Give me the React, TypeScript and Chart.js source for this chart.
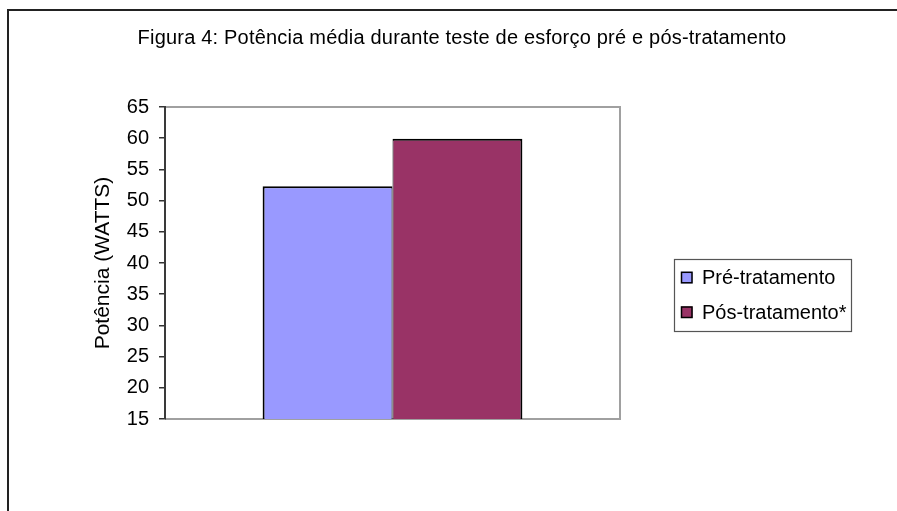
import React, { useEffect, useRef } from "react";
import { Chart, registerables } from "chart.js";

Chart.register(...registerables);

const chartTitle = "Figura 4: Potência média durante teste de esforço pré e pós-tratamento";
const yAxisTitle = "Potência (WATTS)";
const categories = [""];
const seriesNames = ["Pré-tratamento", "Pós-tratamento*"];
const preValues = [52.3];
const postValues = [59.9];
const seriesColors = ["#9999FF", "#993366"];
const yMin = 15;
const yMax = 65;
const yStep = 5;

const FONT = "'Liberation Sans', Arial, sans-serif";

// Static decorations: outer frame, gray plot frame, title and legend.
const decorPlugin = {
  id: "decor",
  beforeDraw(chart: any) {
    const { ctx, chartArea } = chart;
    const { left, right, top, bottom } = chartArea;
    ctx.save();
    ctx.fillStyle = "#ffffff";
    ctx.fillRect(0, 0, chart.width, chart.height);

    // outer frame
    ctx.strokeStyle = "#222222";
    ctx.lineWidth = 2;
    ctx.beginPath();
    ctx.moveTo(8, chart.height);
    ctx.lineTo(8, 10);
    ctx.lineTo(chart.width, 10);
    ctx.stroke();

    // plot frame (top, right, bottom)
    ctx.strokeStyle = "#a0a0a0";
    ctx.lineWidth = 2;
    ctx.beginPath();
    ctx.moveTo(left, top);
    ctx.lineTo(right, top);
    ctx.lineTo(right, bottom);
    ctx.lineTo(left, bottom);
    ctx.stroke();

    // title
    ctx.fillStyle = "#000000";
    ctx.font = `20px ${FONT}`;
    (ctx as any).letterSpacing = "0.2px";
    ctx.textAlign = "center";
    ctx.textBaseline = "alphabetic";
    ctx.fillText(chartTitle, 462, 43.5);
    (ctx as any).letterSpacing = "0px";

    // legend
    const lx = 674, ly = 259, lw = 177, lh = 72;
    ctx.strokeStyle = "#555555";
    ctx.lineWidth = 1.2;
    ctx.strokeRect(lx + 0.5, ly + 0.5, lw, lh);
    const baselines = [284.3, 319];
    chart.data.datasets.forEach((ds: any, i: number) => {
      const b = baselines[i];
      ctx.fillStyle = ds.backgroundColor;
      ctx.fillRect(681, b - 12.5, 11.5, 11.5);
      ctx.strokeStyle = "#000000";
      ctx.lineWidth = 1.5;
      ctx.strokeRect(681.5, b - 12, 10.5, 10.5);
      ctx.fillStyle = "#000000";
      ctx.font = `20px ${FONT}`;
      ctx.textAlign = "left";
      ctx.fillText(ds.label, 702, b);
    });
    ctx.restore();
  },
};

export default function App() {
  const canvasRef = useRef<HTMLCanvasElement | null>(null);

  useEffect(() => {
    const canvas = canvasRef.current;
    if (!canvas) return;
    const chart = new Chart(canvas, {
      type: "bar",
      data: {
        labels: categories,
        datasets: [
          {
            label: seriesNames[0],
            data: preValues,
            backgroundColor: seriesColors[0],
            borderColor: "#000000",
            borderWidth: { left: 2, top: 2, bottom: 2, right: 1 },
            borderSkipped: false,
          },
          {
            label: seriesNames[1],
            data: postValues,
            backgroundColor: seriesColors[1],
            borderColor: "#000000",
            borderWidth: { left: 1, top: 2, bottom: 2, right: 2 },
            borderSkipped: false,
          },
        ],
      },
      options: {
        animation: false,
        responsive: true,
        maintainAspectRatio: false,
        layout: { padding: { left: 0, right: 277, top: 107, bottom: 92 } },
        datasets: {
          bar: { barPercentage: 1, categoryPercentage: 0.571 },
        },
        plugins: {
          legend: { display: false },
          title: { display: false },
          tooltip: { enabled: false },
        },
        scales: {
          x: { display: false },
          y: {
            min: yMin,
            max: yMax,
            afterFit(scale: any) {
              scale.width = 165;
            },
            ticks: {
              stepSize: yStep,
              padding: 10,
              color: "#000000",
              font: { family: FONT, size: 20 },
            },
            grid: {
              drawOnChartArea: false,
              drawTicks: true,
              tickLength: 6,
              color: "#333333",
              lineWidth: 1.5,
            },
            border: { display: true, color: "#3a3a3a", width: 2 },
            title: {
              display: true,
              text: yAxisTitle,
              color: "#000000",
              font: { family: FONT, size: 21 },
              padding: { top: 91, bottom: 0 },
            },
          },
        },
      },
      plugins: [decorPlugin],
    });
    return () => chart.destroy();
  }, []);

  return (
    <div style={{ position: "fixed", left: 0, top: 0, width: 897, height: 511, background: "#fff" }}>
      <canvas ref={canvasRef} />
    </div>
  );
}
